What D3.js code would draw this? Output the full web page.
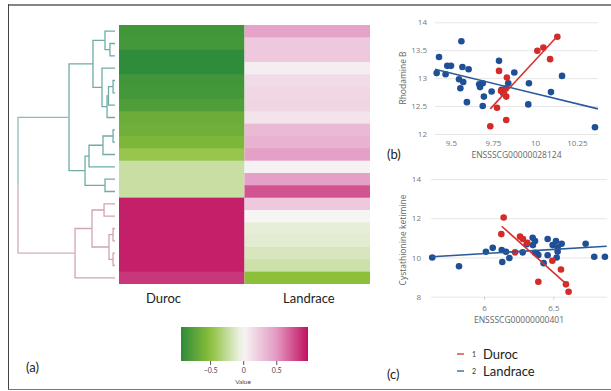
<!DOCTYPE html>
<html>
<head>
<meta charset="utf-8">
<script src="https://cdn.jsdelivr.net/npm/d3@7"></script>
<style>
  body { margin: 0; background: #fff; }
  svg { display: block; font-family: Lato, "Open Sans", sans-serif; }
</style>
</head>
<body>
<svg id="svg1" width="611" height="391"></svg>
<script>
// heatmap rows (top to bottom), one value per breed
var breeds = ["Duroc", "Landrace"];
var durocValues = [-0.85, -0.83, -0.93, -0.93, -0.85, -0.83, -0.78, -0.65, -0.63, -0.57, -0.45,
    -0.22, -0.22, -0.22, 0.93, 0.93, 0.93, 0.93, 0.93, 0.93, 0.85];
var landraceValues = [0.45, 0.25, 0.25, 0.05, 0.15, 0.17, 0.18, 0.1, 0.33, 0.37, 0.47,
    0.03, 0.47, 0.75, 0.25, 0.01, -0.08, -0.1, -0.15, -0.2, -0.5];

// dendrogram: [height, left, right], leaves are row indexes
var dendroTree = [1.0,
    [0.474,
        [0.227,
            [0.103, 0, [0.052, 1, 2]],
            [0.134, 3, [0.082, [0.067, [0.02, 4, 5], 6], 7]]],
        [0.309,
            [0.268, [0.124, [0.02, 8, 9], 10], 11],
            [0.103, 12, 13]]],
    [0.412,
        [0.237,
            [0.113, 14, 15],
            [0.062, [0.02, 16, 17], [0.02, 18, 19]]],
        20]];

var colorStops = [-0.95, -0.5, 0, 0.5, 0.98];
var colorRange = ["#2b8a3a", "#8cbf3a", "#f7f7f5", "#e49ac4", "#c0115e"];
var colorTicks = [-0.5, 0, 0.5];

// scatter (b)
var bLandraceX = [9.415, 9.429, 9.468, 9.478, 9.50, 9.548, 9.556, 9.562, 9.568, 9.573, 9.595, 9.605, 9.668, 9.673,
    9.689, 9.689, 9.696, 9.742, 9.786, 9.801, 9.811, 9.841, 9.877, 9.964, 9.960, 10.095, 10.161, 10.357];
var bLandraceY = [13.09, 13.38, 13.07, 13.22, 13.22, 12.98, 12.82, 13.66, 13.2, 12.93, 12.57, 13.16, 12.89, 12.84,
    12.91, 12.50, 12.67, 12.76, 13.31, 12.79, 12.73, 12.91, 13.10, 12.91, 12.53, 12.75, 13.04, 12.12];
var bDurocX = [9.734, 9.774, 9.786, 9.798, 9.815, 9.826, 9.829, 9.833, 9.829, 10.014, 10.05, 10.09, 10.133];
var bDurocY = [12.14, 12.47, 13.13, 12.77, 12.74, 12.82, 12.67, 13.01, 12.25, 13.49, 13.55, 13.34, 13.74];
var bLandraceFit = [[9.405, 13.16], [10.375, 12.45]];
var bDurocFit = [[9.734, 12.45], [10.133, 13.75]];
var bXTicks = [9.5, 9.75, 10, 10.25];
var bYTicks = [12, 12.5, 13, 13.5, 14];

// scatter (c)
var cLandraceX = [5.627, 5.82, 6.014, 6.063, 6.128, 6.132, 6.159, 6.183, 6.279, 6.308, 6.351, 6.353, 6.368, 6.368,
    6.382, 6.392, 6.43, 6.459, 6.459, 6.495, 6.519, 6.531, 6.531, 6.524, 6.56, 6.733, 6.795, 6.872];
var cLandraceY = [10.0, 9.55, 10.29, 10.49, 10.38, 9.77, 10.29, 9.97, 10.26, 10.67, 11.0, 10.63, 10.84, 10.24,
    10.19, 10.12, 9.71, 10.94, 10.11, 10.63, 10.84, 10.52, 10.3, 10.0, 10.70, 10.70, 10.04, 10.04];
var cDurocX = [6.125, 6.142, 6.26, 6.281, 6.312, 6.224, 6.392, 6.493, 6.555, 6.591, 6.61];
var cDurocY = [11.19, 12.04, 11.06, 10.94, 10.75, 10.26, 8.76, 9.83, 9.39, 8.63, 8.25];
var cLandraceFit = [[5.627, 10.04], [6.885, 10.57]];
var cDurocFit = [[6.128, 11.59], [6.603, 8.59]];
var cXTicks = [6, 6.5];
var cYTicks = [8, 10, 12, 14];

var svg = d3.select("#svg1");

// frame
svg.append("line").attr("x1", 8).attr("x2", 611).attr("y1", 5).attr("y2", 5)
    .attr("stroke", "#858585").attr("stroke-width", 2);
svg.append("line").attr("x1", 8.5).attr("x2", 8.5).attr("y1", 4).attr("y2", 390)
    .attr("stroke", "#444").attr("stroke-width", 1);
svg.append("line").attr("x1", 8).attr("x2", 611).attr("y1", 389.5).attr("y2", 389.5)
    .attr("stroke", "#777").attr("stroke-width", 1.2);

// ---------- heatmap ----------
var color = d3.scaleLinear().domain(colorStops).range(colorRange).clamp(true);
var rows = d3.scaleBand().domain(d3.range(durocValues.length)).range([25, 284]);
var cols = d3.scaleBand().domain(breeds).range([119, 370]);

var cells = [];
durocValues.forEach(function (v, i) { cells.push({ breed: "Duroc", row: i, value: v }); });
landraceValues.forEach(function (v, i) { cells.push({ breed: "Landrace", row: i, value: v }); });

svg.append("g").selectAll("rect")
    .data(cells)
    .enter().append("rect")
    .attr("x", function (d) { return cols(d.breed); })
    .attr("y", function (d) { return rows(d.row); })
    .attr("width", cols.bandwidth())
    .attr("height", function (d) { return d.row === durocValues.length - 1 ? rows.bandwidth() : rows.bandwidth() + 0.9; })
    .attr("fill", function (d) { return color(d.value); });

var labelX = { "Duroc": 146, "Landrace": 283 };
breeds.forEach(function (b) {
    svg.append("text")
        .attr("x", labelX[b])
        .attr("y", 303)
        .attr("font-size", 13)
        .attr("fill", "#222")
        .text(b);
});

svg.append("text").attr("x", 26).attr("y", 372).attr("font-size", 13).attr("fill", "#222").text("(a)");

// ---------- dendrogram ----------
var hx = d3.scaleLinear().domain([0, 1]).range([115, 18]);

function buildNode(n) {
    if (typeof n === "number") return { h: 0, y: rows(n) + rows.bandwidth() / 2 };
    var a = buildNode(n[1]), b = buildNode(n[2]);
    return { h: n[0], left: a, right: b, y: (a.y + b.y) / 2 };
}
var root = buildNode(dendroTree);
var dendro = svg.append("g").attr("fill", "none").attr("stroke-width", 1.3);

function drawNode(node, col) {
    if (!node.left) return;
    [node.left, node.right].forEach(function (c) {
        dendro.append("path")
            .attr("d", "M" + hx(node.h) + "," + node.y + "V" + c.y + "H" + hx(c.h))
            .attr("stroke", col);
        drawNode(c, col);
    });
}
drawNode(root.left, "#6faca7");
drawNode(root.right, "#d1a3b3");
dendro.append("path")
    .attr("d", "M" + hx(root.h) + "," + root.y + "V" + root.left.y + "H" + hx(root.left.h))
    .attr("stroke", "#8dbdba");
dendro.append("path")
    .attr("d", "M" + hx(root.h) + "," + root.y + "V" + root.right.y + "H" + hx(root.right.h))
    .attr("stroke", "#d6adbc");

// ---------- color bar ----------
var cbScale = d3.scaleLinear().domain([-0.94, 0.98]).range([181, 308]);
var grad = svg.append("defs").append("linearGradient").attr("id", "cb");
d3.range(0, 1.0001, 0.05).forEach(function (t) {
    var v = cbScale.domain()[0] + t * (cbScale.domain()[1] - cbScale.domain()[0]);
    grad.append("stop").attr("offset", t).attr("stop-color", color(v));
});
svg.append("rect").attr("x", 181).attr("y", 327).attr("width", 127).attr("height", 34)
    .attr("fill", "url(#cb)");
var cbAxis = svg.append("g")
    .attr("transform", "translate(0,361)")
    .call(d3.axisBottom(cbScale).tickValues(colorTicks).tickSize(4).tickPadding(3)
        .tickFormat(d3.format("")));
cbAxis.select(".domain").remove();
cbAxis.selectAll("line").attr("stroke", "#555");
cbAxis.selectAll("text").attr("font-size", 7).attr("fill", "#444").attr("font-family", "Lato, sans-serif");
svg.append("text").attr("x", 243).attr("y", 384).attr("text-anchor", "middle")
    .attr("font-size", 6.5).attr("fill", "#444").text("Value");

// ---------- scatter plots ----------
function scatter(cfg) {
    var x = d3.scaleLinear().domain(cfg.xDomain).range(cfg.xRange);
    var y = d3.scaleLinear().domain(cfg.yDomain).range(cfg.yRange);
    var g = svg.append("g");

    var ya = g.append("g")
        .attr("transform", "translate(" + cfg.xRange[0] + ",0)")
        .call(d3.axisLeft(y).tickValues(cfg.yTicks)
            .tickSize(-(cfg.xRange[1] - cfg.xRange[0])).tickPadding(cfg.yPad)
            .tickFormat(d3.format("")));
    ya.select(".domain").remove();
    ya.selectAll("line").attr("stroke", "#e6e6e6");
    ya.selectAll("text").attr("font-size", 8).attr("fill", "#777").attr("font-family", "Open Sans, sans-serif");

    var xa = g.append("g")
        .attr("transform", "translate(0," + cfg.yRange[0] + ")")
        .call(d3.axisBottom(x).tickValues(cfg.xTicks).tickSize(cfg.xTickSize).tickPadding(6)
            .tickFormat(d3.format("")));
    xa.select(".domain").remove();
    xa.selectAll("line").attr("stroke", "#ccc");
    xa.selectAll("text").attr("font-size", 8).attr("fill", "#777").attr("font-family", "Open Sans, sans-serif");

    g.append("text")
        .attr("x", (cfg.xRange[0] + cfg.xRange[1]) / 2)
        .attr("y", cfg.xTitleY)
        .attr("text-anchor", "middle")
        .attr("font-size", 8.5).attr("fill", "#666").attr("font-family", "Open Sans, sans-serif")
        .text(cfg.xTitle);
    g.append("text")
        .attr("transform", "translate(406," + cfg.yTitleY + ") rotate(-90)")
        .attr("text-anchor", "middle")
        .attr("font-size", 8.5).attr("fill", "#666").attr("font-family", "Open Sans, sans-serif")
        .text(cfg.yTitle);

    var line = d3.line().x(function (d) { return x(d[0]); }).y(function (d) { return y(d[1]); });

    g.selectAll(null)
        .data(d3.zip(cfg.landX, cfg.landY))
        .enter().append("circle")
        .attr("cx", function (d) { return x(d[0]); })
        .attr("cy", function (d) { return y(d[1]); })
        .attr("r", 3.3)
        .attr("fill", "#1f4f96");
    g.selectAll(null)
        .data(d3.zip(cfg.durX, cfg.durY))
        .enter().append("circle")
        .attr("cx", function (d) { return x(d[0]); })
        .attr("cy", function (d) { return y(d[1]); })
        .attr("r", 3.3)
        .attr("fill", "#d42a2a");

    g.append("path").datum(cfg.landFit).attr("d", line)
        .attr("fill", "none").attr("stroke", "#2b5a9c").attr("stroke-width", 1.6);
    g.append("path").datum(cfg.durFit).attr("d", line)
        .attr("fill", "none").attr("stroke", "#d63030").attr("stroke-width", 1.6);

    svg.append("text").attr("x", 387).attr("y", cfg.tagY)
        .attr("font-size", 13).attr("fill", "#222").text(cfg.tag);
}

scatter({
    xDomain: [9.405, 10.375], xRange: [435, 598],
    yDomain: [12, 14], yRange: [134, 22.3],
    xTicks: bXTicks, yTicks: bYTicks, yPad: 8, xTickSize: 0,
    landX: bLandraceX, landY: bLandraceY, durX: bDurocX, durY: bDurocY,
    landFit: bLandraceFit, durFit: bDurocFit,
    xTitle: "ENSSSCG00000028124", xTitleY: 158,
    yTitle: "Rhodamine B", yTitleY: 78,
    tag: "(b)", tagY: 159
});

scatter({
    xDomain: [5.618, 6.887], xRange: [431, 607],
    yDomain: [8, 14], yRange: [296.7, 179],
    xTicks: cXTicks, yTicks: cYTicks, yPad: 10, xTickSize: 3,
    landX: cLandraceX, landY: cLandraceY, durX: cDurocX, durY: cDurocY,
    landFit: cLandraceFit, durFit: cDurocFit,
    xTitle: "ENSSSCG00000000401", xTitleY: 323,
    yTitle: "Cystathionine ketimine", yTitleY: 240,
    tag: "(c)", tagY: 379
});

// legend
var legendItems = [{ n: "1", label: "Duroc", color: "#d63030" }, { n: "2", label: "Landrace", color: "#2b5a9c" }];
var legend = svg.selectAll(".legend")
    .data(legendItems)
    .enter().append("g")
    .attr("class", "legend")
    .attr("transform", function (d, i) { return "translate(0," + (354 + i * 17) + ")"; });
legend.append("line").attr("x1", 457).attr("x2", 464).attr("y1", 0).attr("y2", 0)
    .attr("stroke", function (d) { return d.color; }).attr("stroke-width", 1.3);
legend.append("text").attr("x", 472).attr("y", 3).attr("font-size", 7).attr("fill", "#333")
    .text(function (d) { return d.n; });
legend.append("text").attr("x", 483).attr("y", 4.5).attr("font-size", 13).attr("fill", "#222")
    .text(function (d) { return d.label; });
</script>
</body>
</html>
